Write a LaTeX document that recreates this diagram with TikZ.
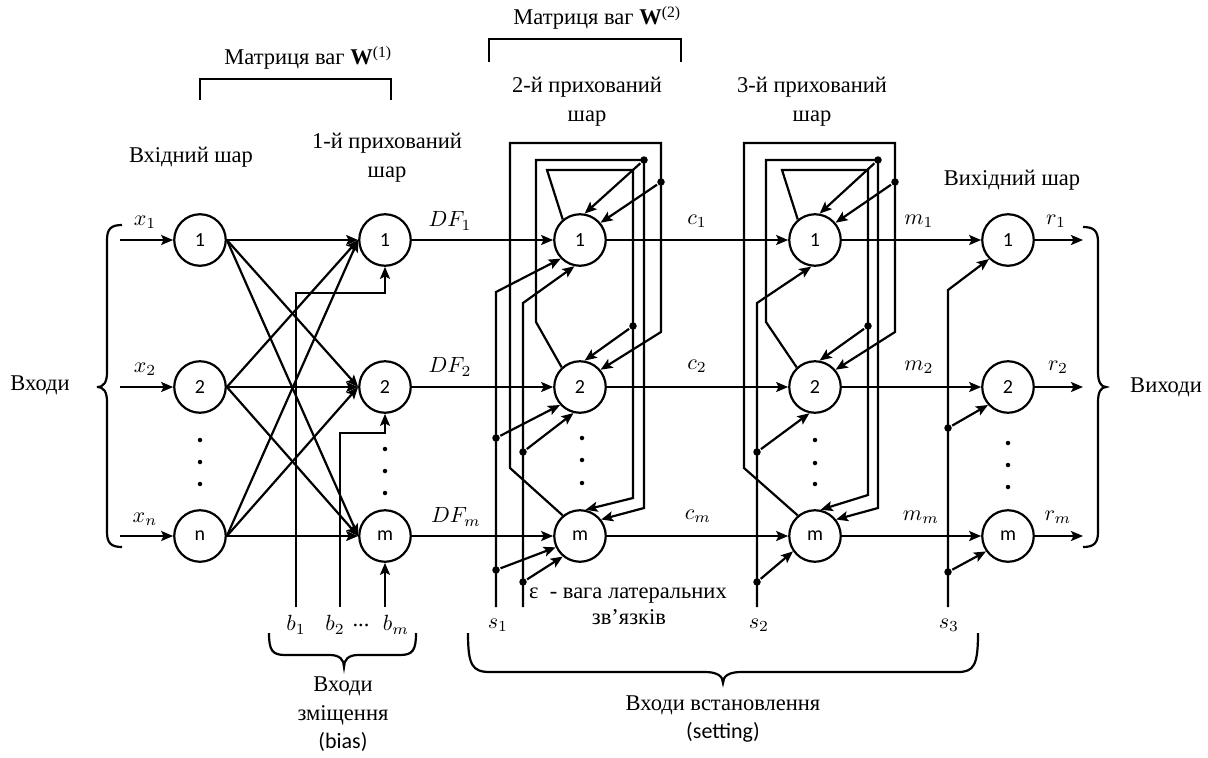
\documentclass[tikz,border=0pt]{standalone}
\usepackage{fontspec}
\setmainfont{Liberation Serif}
\newfontfamily\sansf{Carlito}
\usetikzlibrary{arrows.meta}
\begin{document}
\begin{tikzpicture}[x=1pt,y=-1pt,
  line width=2.2pt,
  neuron/.style={draw,circle,minimum size=51.5pt,inner sep=0pt,fill=white,font=\sansf\fontsize{20}{20}\selectfont},
  arr/.style={-{Stealth[length=12pt,width=10pt,inset=2.5pt]}},
  jd/.style={circle,fill,inner sep=0pt,minimum size=7.5pt},
  vd/.style={circle,fill,inner sep=0pt,minimum size=4.5pt},
  lbl/.style={font=\fontsize{22.5}{29}\selectfont,align=center},
  mlbl/.style={scale=2.2},
  slbl/.style={font=\sansf\fontsize{22}{27}\selectfont,align=center},
]
\useasboundingbox (0,0) rectangle (1208,758);

% ---------- neurons ----------
\node[neuron] (I1) at (200,240) {1};
\node[neuron] (I2) at (200,387) {2};
\node[neuron] (In) at (200,536) {n};
\node[neuron] (H1) at (385,240) {1};
\node[neuron] (H2) at (385,387) {2};
\node[neuron] (Hm) at (385,536) {m};
\node[neuron] (A1) at (580,240) {1};
\node[neuron] (A2) at (580,387) {2};
\node[neuron] (Am) at (580,536) {m};
\node[neuron] (B1) at (815,240) {1};
\node[neuron] (B2) at (815,387) {2};
\node[neuron] (Bm) at (815,536) {m};
\node[neuron] (O1) at (1008,240) {1};
\node[neuron] (O2) at (1008,387) {2};
\node[neuron] (Om) at (1008,536) {m};

% vertical ellipsis dots
\foreach \x/\a/\b/\c in {200/440/462/484, 385/449/471/493, 582/438/460/483, 815/440/463/484, 1008/443/465/487}{
  \node[vd] at (\x,\a) {}; \node[vd] at (\x,\b) {}; \node[vd] at (\x,\c) {};
}

% ---------- inputs ----------
\coordinate (x1s) at (120,240);
\coordinate (x2s) at (120,387);
\coordinate (xns) at (120,536);
\draw[arr] (x1s) -- (I1);
\draw[arr] (x2s) -- (I2);
\draw[arr] (xns) -- (In);
\node[mlbl] at (145,222) {$x_1$};
\node[mlbl] at (145,369) {$x_2$};
\node[mlbl] at (145,519) {$x_n$};

% full connections input -> hidden 1
\foreach \i in {1,2,n}{
  \foreach \j in {1,2,m}{
    \draw[arr] (I\i.east) -- (H\j.west);
  }
}

% bias inputs
\coordinate (b1s) at (296,607); \coordinate (b1d) at (385,293);
\coordinate (b2s) at (340,607); \coordinate (b2d) at (385,433);
\coordinate (bms) at (385,607);
\draw[arr] (b1s) |- (b1d) -- (H1.south);
\draw[arr] (b2s) |- (b2d) -- (H2.south);
\draw[arr] (bms) -- (Hm.south);
\node[mlbl] at (296,625) {$b_1$};
\node[mlbl] at (335,625) {$b_2$};
\node[lbl] at (361,625) {...};
\node[mlbl] at (396,625) {$b_m$};

% hidden1 -> layer 2 -> layer 3 -> output
\draw[arr] (H1) -- (A1); \draw[arr] (H2) -- (A2); \draw[arr] (Hm) -- (Am);
\draw[arr] (A1) -- (B1); \draw[arr] (A2) -- (B2); \draw[arr] (Am) -- (Bm);
\draw[arr] (B1) -- (O1); \draw[arr] (B2) -- (O2); \draw[arr] (Bm) -- (Om);
\coordinate (r1e) at (1083,240);
\coordinate (r2e) at (1083,387);
\coordinate (rme) at (1083,536);
\draw[arr] (O1) -- (r1e); \draw[arr] (O2) -- (r2e); \draw[arr] (Om) -- (rme);

\node[mlbl] at (450,221) {$DF_1$};
\node[mlbl] at (450,367) {$DF_2$};
\node[mlbl] at (456,517) {$DF_m$};
\node[mlbl] at (697,221) {$c_1$};
\node[mlbl] at (697,366) {$c_2$};
\node[mlbl] at (698,516) {$c_m$};
\node[mlbl] at (919,221) {$m_1$};
\node[mlbl] at (919,367) {$m_2$};
\node[mlbl] at (921,517) {$m_m$};
\node[mlbl] at (1056,221) {$r_1$};
\node[mlbl] at (1058,367) {$r_2$};
\node[mlbl] at (1058,517) {$r_m$};

% ---------- layer 2 lateral loops ----------
\node[jd] (a633) at (633,326) {};
\node[jd] (a644) at (644,160) {};
\node[jd] (a661) at (661,182) {};
\draw[arr] (A1.130) -- (547,170) -- (633,170) -- (633,498) -- (Am.78);
\draw[arr] (a633) -- (A2.80);
\draw[arr] (A2.133) -- (536,322) -- (536,160) -- (644,160) -- (644,508) -- (Am.38);
\draw[arr] (a644) -- (A1.80);
\draw[arr] (Am.130) -- (510,468) -- (510,143) -- (661,143) -- (661,332) -- (A2.40);
\draw[arr] (a661) -- (A1.40);

% setting s1 and epsilon lines
\node[jd] (s1b) at (496,438) {};
\node[jd] (s1c) at (496,570) {};
\node[jd] (eb) at (523,452) {};
\node[jd] (ec) at (523,582) {};
\coordinate (s1s) at (496,607);
\coordinate (es) at (523,607);
\draw[arr] (s1s) -- (496,292) -- (A1.224);
\draw[arr] (s1b) -- (A2.222);
\draw[arr] (s1c) -- (Am.205);
\draw[arr] (es) -- (523,303) -- (A1.258);
\draw[arr] (eb) -- (A2.256);
\draw[arr] (ec) -- (Am.230);

% ---------- layer 3 lateral loops ----------
\node[jd] (b868) at (868,326) {};
\node[jd] (b878) at (878,160) {};
\node[jd] (b895) at (895,182) {};
\draw[arr] (B1.130) -- (782,170) -- (868,170) -- (868,495) -- (Bm.78);
\draw[arr] (b868) -- (B2.80);
\draw[arr] (B2.133) -- (766,322) -- (766,160) -- (878,160) -- (878,508) -- (Bm.38);
\draw[arr] (b878) -- (B1.80);
\draw[arr] (Bm.130) -- (744,468) -- (744,143) -- (895,143) -- (895,332) -- (B2.40);
\draw[arr] (b895) -- (B1.40);

% setting s2
\node[jd] (s2b) at (757,452) {};
\node[jd] (s2c) at (757,582) {};
\coordinate (s2s) at (757,607);
\draw[arr] (s2s) -- (757,303) -- (B1.262);
\draw[arr] (s2b) -- (B2.258);
\draw[arr] (s2c) -- (Bm.215);

% setting s3
\node[jd] (s3b) at (948,428) {};
\node[jd] (s3c) at (948,572) {};
\coordinate (s3s) at (948,607);
\draw[arr] (s3s) -- (948,290) -- (O1.225);
\draw[arr] (s3b) -- (O2.222);
\draw[arr] (s3c) -- (Om.215);

\node[mlbl] at (498,625) {$s_1$};
\node[mlbl] at (759,625) {$s_2$};
\node[mlbl] at (949,625) {$s_3$};

% epsilon note
\node[lbl,anchor=base west,inner sep=0pt] at (528,598) {ε\ \ - вага латеральних};
\node[lbl,anchor=base,inner sep=0pt] at (629,624) {зв’язків};

% ---------- braces & brackets ----------
\draw (122,225) .. controls (111,225) and (107,229) .. (107,240) -- (107,372)
  .. controls (107,382) and (104,387) .. (97,387)
  .. controls (104,387) and (107,392) .. (107,402) -- (107,532)
  .. controls (107,543) and (111,547) .. (122,547);
\draw (1083,227) .. controls (1094,227) and (1098,231) .. (1098,242) -- (1098,372)
  .. controls (1098,382) and (1101,387) .. (1106,387)
  .. controls (1101,387) and (1098,392) .. (1098,402) -- (1098,532)
  .. controls (1098,543) and (1094,547) .. (1083,547);
\draw (269,633) .. controls (269,650) and (272,655) .. (285,655) -- (330,655)
  .. controls (340,655) and (344,660) .. (344,667)
  .. controls (344,660) and (348,655) .. (358,655) -- (400,655)
  .. controls (413,655) and (416,650) .. (416,633);
\draw (468,633) .. controls (468,665) and (472,672) .. (490,672) -- (705,672)
  .. controls (717,672) and (723,676) .. (723,683)
  .. controls (723,676) and (729,672) .. (741,672) -- (958,672)
  .. controls (974,672) and (978,665) .. (978,633);
\draw (200,100) -- (200,79) -- (391,79) -- (391,100);
\draw (489,62) -- (489,39) -- (681,39) -- (681,62);

% ---------- texts ----------
\node[lbl] at (308,58) {Матриця ваг \textbf{W}\textsuperscript{(1)}};
\node[lbl] at (597,18) {Матриця ваг \textbf{W}\textsuperscript{(2)}};
\node[lbl] at (191,157) {Вхідний шар};
\node[lbl] at (387,158) {1-й прихований\\шар};
\node[lbl] at (587,102) {2-й прихований\\шар};
\node[lbl] at (812,102) {3-й прихований\\шар};
\node[lbl] at (1012,180) {Вихідний шар};
\node[lbl] at (40,385) {Входи};
\node[lbl] at (1166,387) {Виходи};
\node[lbl] at (343,701) {Входи\\зміщення};
\node[slbl] at (343,742) {(bias)};
\node[lbl] at (723,705) {Входи встановлення};
\node[slbl] at (723,732) {(setting)};
\end{tikzpicture}
\end{document}
